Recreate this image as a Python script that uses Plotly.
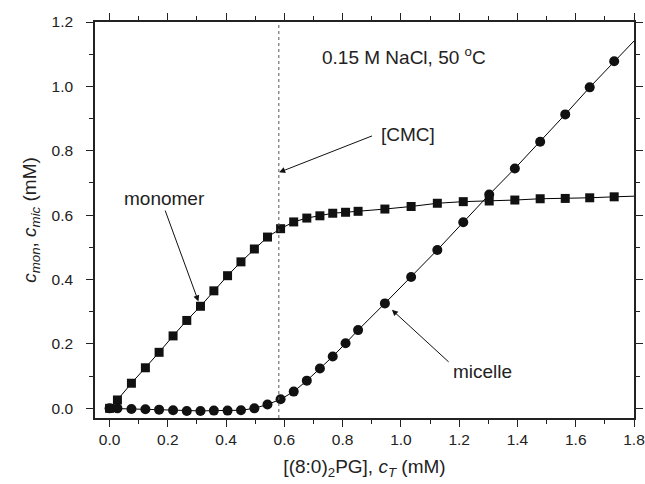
import plotly.graph_objects as go

# total surfactant concentration c_T (mM)
ct = [0.0, 0.027, 0.075, 0.123, 0.170, 0.218, 0.265, 0.312, 0.358, 0.405,
      0.451, 0.497, 0.542, 0.587, 0.632, 0.677, 0.722, 0.766, 0.810, 0.853,
      0.945, 1.035, 1.125, 1.214, 1.303, 1.391, 1.478, 1.564, 1.648, 1.732]
# monomer concentration (mM)
c_mon = [0.0, 0.026, 0.078, 0.126, 0.174, 0.225, 0.273, 0.317, 0.365, 0.412,
         0.455, 0.495, 0.532, 0.558, 0.579, 0.591, 0.598, 0.606, 0.609, 0.612,
         0.619, 0.627, 0.637, 0.642, 0.644, 0.647, 0.651, 0.652, 0.654, 0.657]
# micelle concentration (mM)
c_mic = [0.0, 0.0, -0.002, -0.003, -0.004, -0.006, -0.008, -0.008, -0.007, -0.007,
         -0.006, 0.0, 0.012, 0.028, 0.052, 0.086, 0.124, 0.161, 0.202, 0.243,
         0.326, 0.408, 0.492, 0.578, 0.664, 0.745, 0.828, 0.913, 0.997, 1.078]

# fitted model curves (extend to axis end)
fit_x = ct + [1.8]
mon_fit = c_mon + [0.659]
mic_fit = c_mic + [1.141]

cmc = 0.581

FONT = "Arial, Liberation Sans, sans-serif"

fig = go.Figure()
fig.add_trace(go.Scatter(x=fit_x, y=mon_fit, mode="lines",
                         line=dict(color="black", width=1), showlegend=False, hoverinfo="skip"))
fig.add_trace(go.Scatter(x=fit_x, y=mic_fit, mode="lines",
                         line=dict(color="black", width=1), showlegend=False, hoverinfo="skip"))
fig.add_trace(go.Scatter(x=ct, y=c_mon, mode="markers", name="monomer",
                         marker=dict(symbol="square", size=9, color="#111111"), showlegend=False))
fig.add_trace(go.Scatter(x=ct, y=c_mic, mode="markers", name="micelle",
                         marker=dict(symbol="circle", size=10, color="#111111"), showlegend=False))

# CMC vertical dotted line
fig.add_shape(type="line", xref="x", yref="paper", x0=cmc, x1=cmc, y0=0, y1=1,
              line=dict(color="#555555", width=1, dash="dot"))

ann_font = dict(family=FONT, size=19, color="#222222")
fig.add_annotation(x=0.723, y=1.093, xref="x", yref="y", text="0.15 M NaCl, 50 <sup>o</sup>C",
                   showarrow=False, xanchor="left", yanchor="middle", font=ann_font)
fig.add_annotation(x=0.188, y=0.651, text="monomer", showarrow=False, font=ann_font)
fig.add_annotation(x=1.026, y=0.851, text="[CMC]", showarrow=False, font=ann_font)
fig.add_annotation(x=1.281, y=0.114, text="micelle", showarrow=False, font=ann_font)

arrow_kw = dict(text="", showarrow=True, arrowhead=2, arrowsize=1.2, arrowwidth=1,
                arrowcolor="#111111", axref="x", ayref="y", xref="x", yref="y", standoff=0)
fig.add_annotation(x=0.305, y=0.332, ax=0.189, ay=0.619, **arrow_kw)
fig.add_annotation(x=0.582, y=0.733, ax=0.906, ay=0.848, **arrow_kw)
fig.add_annotation(x=0.969, y=0.306, ax=1.169, ay=0.140, **arrow_kw)

axis_common = dict(showline=True, linecolor="#222222", linewidth=1.5, mirror="ticks",
                   ticks="outside", ticklen=7, tickwidth=1.2, tickcolor="#222222",
                   showgrid=False, zeroline=False, tickformat=".1f",
                   ticklabeloverflow="allow", automargin=False,
                   tickfont=dict(family=FONT, size=15.5, color="#222222"),
                   minor=dict(ticks="outside", ticklen=4, tickwidth=1.2, tickcolor="#222222",
                              dtick=0.1, showgrid=False))

fig.update_xaxes(range=[-0.05, 1.8], tick0=0, dtick=0.2, ticklabelstandoff=0,
                 title=dict(text="[(8:0)<sub>2</sub>PG], <i>c</i><sub><i>T</i></sub> (mM)",
                            font=dict(family=FONT, size=19, color="#222222"), standoff=12),
                 **axis_common)
fig.update_yaxes(range=[-0.03, 1.2], tick0=0, dtick=0.2, ticklabelstandoff=10,
                 title=dict(text="<i>c</i><sub><i>mon</i></sub>, <i>c</i><sub><i>mic</i></sub> (mM)",
                            font=dict(family=FONT, size=19, color="#222222"), standoff=10),
                 **axis_common)

fig.update_layout(width=645, height=484, margin=dict(l=95, r=11, t=22, b=66),
                  paper_bgcolor="white", plot_bgcolor="white",
                  font=dict(family=FONT, color="#222222"))

fig.write_html("out.html", config={"displayModeBar": False},
               post_script="document.body.style.margin='0';")
